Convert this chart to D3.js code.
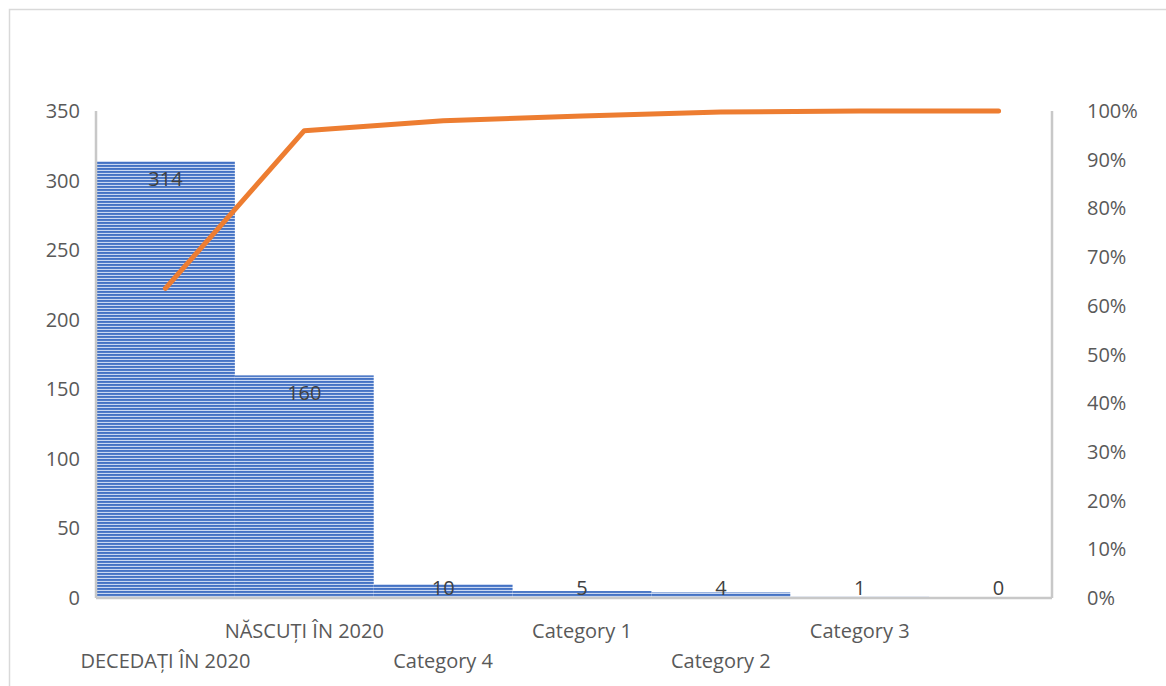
<!DOCTYPE html>
<html>
<head>
<meta charset="utf-8">
<script src="https://cdn.jsdelivr.net/npm/d3@7/dist/d3.min.js"></script>
<style>
  html, body { margin: 0; padding: 0; background: #fff; }
  svg { display: block; font-family: "Open Sans", "Liberation Sans", sans-serif; }
</style>
</head>
<body>
<svg id="chart" width="1166" height="686"></svg>
<script>
// Pareto: counts per category + cumulative share line
const categories = ['DECEDAȚI ÎN 2020', 'NĂSCUȚI ÎN 2020', 'Category 4', 'Category 1', 'Category 2', 'Category 3', ''];
const counts = [314, 160, 10, 5, 4, 1, 0];
const countTicks = [0, 50, 100, 150, 200, 250, 300, 350];
const pctTicks = [0, 0.1, 0.2, 0.3, 0.4, 0.5, 0.6, 0.7, 0.8, 0.9, 1];

const total = d3.sum(counts);
let run = 0;
const cumulative = counts.map((v) => (run += v) / total);

const W = 1166, H = 686;
const m = { left: 96, right: 1052, top: 111, bottom: 598 };
const svg = d3.select('#chart');

// chart frame (top + left edges only visible)
svg.append('rect').attr('x', 9.5).attr('y', 9.5).attr('width', W + 20).attr('height', H + 20)
  .attr('fill', 'none').attr('stroke', '#d9d9d9').attr('stroke-width', 1.5);

// horizontal stripe fill for bars
const pat = svg.append('defs').append('pattern').attr('id', 'stripes')
  .attr('patternUnits', 'userSpaceOnUse').attr('width', 6).attr('height', 3);
pat.append('rect').attr('width', 6).attr('height', 3).attr('fill', '#c9d7f1');
pat.append('rect').attr('width', 6).attr('height', 1.9).attr('fill', '#4472c4');

// category bands run a little past the right axis line (as in the source)
const x = d3.scaleBand().domain(d3.range(counts.length)).range([m.left, 1068]).padding(0);
const y = d3.scaleLinear().domain([0, 350]).range([m.bottom, m.top]);
const yPct = d3.scaleLinear().domain([0, 1]).range([m.bottom, m.top]);

// bars
svg.append('g').selectAll('rect').data(counts).join('rect')
  .attr('x', (d, i) => x(i)).attr('width', x.bandwidth())
  .attr('y', (d) => y(d)).attr('height', (d) => m.bottom - y(d))
  .attr('fill', 'url(#stripes)');

// axes lines
const axisColor = '#c8c8c8';
svg.append('line').attr('x1', m.left).attr('x2', m.left).attr('y1', m.top).attr('y2', m.bottom)
  .attr('stroke', axisColor).attr('stroke-width', 2.5);
svg.append('line').attr('x1', m.right).attr('x2', m.right).attr('y1', m.top).attr('y2', m.bottom)
  .attr('stroke', axisColor).attr('stroke-width', 2.5);
svg.append('line').attr('x1', m.left).attr('x2', m.right).attr('y1', m.bottom).attr('y2', m.bottom)
  .attr('stroke', axisColor).attr('stroke-width', 2.5);

const tickStyle = (g) => g.attr('fill', '#595959').attr('font-size', 20);

// left ticks
svg.append('g').call(tickStyle).selectAll('text').data(countTicks).join('text')
  .attr('x', 80).attr('y', (d) => y(d)).attr('dy', '0.35em').attr('text-anchor', 'end')
  .text((d) => d);

// right ticks
svg.append('g').call(tickStyle).selectAll('text').data(pctTicks).join('text')
  .attr('x', 1087).attr('y', (d) => yPct(d)).attr('dy', '0.35em').attr('text-anchor', 'start')
  .text(d3.format('.0%'));

// category labels, staggered on two rows
svg.append('g').call(tickStyle).selectAll('text').data(categories).join('text')
  .attr('x', (d, i) => x(i) + x.bandwidth() / 2)
  .attr('y', (d, i) => i % 2 === 0 ? 661 : 631).attr('dy', '0.35em')
  .attr('text-anchor', 'middle').text((d) => d);

// data labels inside bar tops
svg.append('g').attr('fill', '#404040').attr('font-size', 20).selectAll('text').data(counts).join('text')
  .attr('x', (d, i) => x(i) + x.bandwidth() / 2)
  .attr('y', (d) => Math.min(y(d) + 18, m.bottom - 10)).attr('dy', '0.35em')
  .attr('text-anchor', 'middle').text((d) => d);

// cumulative line
const line = d3.line().x((d, i) => x(i) + x.bandwidth() / 2).y((d) => yPct(d));
svg.append('path').datum(cumulative).attr('d', line)
  .attr('fill', 'none').attr('stroke', '#ed7d31').attr('stroke-width', 5)
  .attr('stroke-linecap', 'round').attr('stroke-linejoin', 'round');
</script>
</body>
</html>
